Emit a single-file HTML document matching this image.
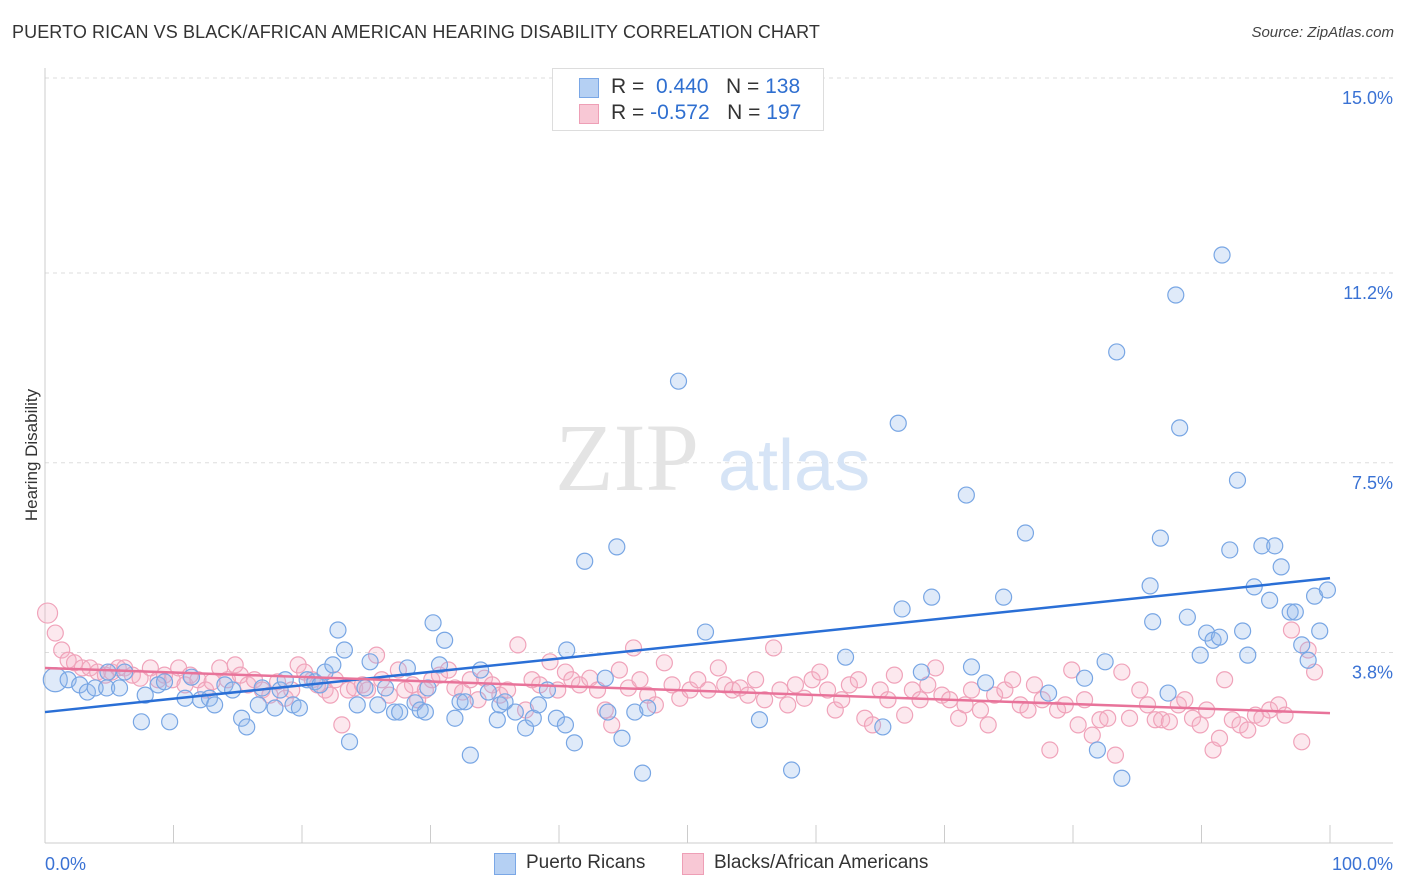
<!DOCTYPE html>
<html><head><meta charset="utf-8">
<style>
body{margin:0;background:#fff;font-family:"Liberation Sans",sans-serif;}
#wrap{position:relative;width:1406px;height:892px;overflow:hidden;}
.t{position:absolute;white-space:nowrap;}
</style></head><body>
<div id="wrap">
<div class="t" style="left:12px;top:22px;font-size:18px;color:#333;letter-spacing:0.1px">PUERTO RICAN VS BLACK/AFRICAN AMERICAN HEARING DISABILITY CORRELATION CHART</div>
<div class="t" style="right:12px;top:24px;font-size:15px;color:#444;font-style:italic">Source: ZipAtlas.com</div>
<div class="t" style="left:-38px;top:445px;font-size:17px;color:#333;transform:rotate(-90deg);transform-origin:center;width:140px;text-align:center">Hearing Disability</div>
<svg id="plot" width="1406" height="892" style="position:absolute;left:0;top:0"></svg>
<div style="position:absolute;left:552px;top:68px;width:270px;height:61px;border:1px solid #ddd;background:#fff;">
 <div style="position:absolute;left:26px;top:9px;width:18px;height:18px;background:#b5d0f3;border:1px solid #7aa7e6"></div>
 <div class="t" style="left:58px;top:6px;font-size:21px;color:#333">R = &nbsp;<span style="color:#2f6fd0">0.440</span> &nbsp;&nbsp;N = <span style="color:#2f6fd0">138</span></div>
 <div style="position:absolute;left:26px;top:35px;width:18px;height:18px;background:#f8c8d5;border:1px solid #ee9fb6"></div>
 <div class="t" style="left:58px;top:32px;font-size:21px;color:#333">R = <span style="color:#2f6fd0">-0.572</span> &nbsp;&nbsp;N = <span style="color:#2f6fd0">197</span></div>
</div>
<div style="position:absolute;left:494px;top:853px;width:20px;height:20px;background:#b5d0f3;border:1px solid #7aa7e6"></div>
<div class="t" style="left:526px;top:852px;font-size:19px;color:#333">Puerto Ricans</div>
<div style="position:absolute;left:682px;top:853px;width:20px;height:20px;background:#f8c8d5;border:1px solid #ee9fb6"></div>
<div class="t" style="left:714px;top:852px;font-size:19px;color:#333">Blacks/African Americans</div>
</div>
<script>
const yTicks=[15.0,11.2,7.5,3.8];
const yTickLabels=["15.0%","11.2%","7.5%","3.8%"];
const xTickLabels=["0.0%","100.0%"];
const blueX=[0.8,1.8,2.7,3.3,3.9,4.8,5.8,4.9,6.2,7.5,7.8,8.8,9.7,9.3,10.9,11.4,12.1,12.8,13.2,14.0,14.6,15.3,15.7,16.6,16.9,17.9,18.3,18.7,19.3,19.8,20.4,21.0,21.4,21.8,22.4,22.8,23.3,23.7,24.3,24.9,25.3,25.9,26.5,27.2,27.6,28.2,28.8,29.2,29.6,29.8,30.2,30.7,31.1,31.9,32.3,32.7,33.1,33.9,34.5,35.2,35.4,35.8,36.6,37.4,38.0,38.4,39.1,39.8,40.5,40.6,41.2,42.0,43.6,43.8,44.5,44.9,45.9,46.5,46.9,49.3,51.4,55.6,58.1,62.3,65.2,66.4,66.7,68.2,69.0,71.7,72.1,73.2,74.6,76.3,78.1,80.9,81.9,82.5,83.4,83.8,86.0,86.2,86.8,87.4,88.0,88.3,88.9,89.9,90.4,90.9,91.4,91.6,92.2,92.8,93.2,93.6,94.1,94.7,95.3,95.7,96.2,96.9,97.3,97.8,98.3,98.8,99.2,99.8];
const blueY=[3.27,3.27,3.17,3.03,3.11,3.11,3.11,3.42,3.42,2.45,2.97,3.17,2.45,3.23,2.91,3.32,2.88,2.91,2.78,3.17,3.07,2.52,2.35,2.78,3.11,2.72,3.07,3.27,2.78,2.72,3.27,3.23,3.17,3.42,3.56,4.24,3.85,2.06,2.78,3.11,3.62,2.78,3.11,2.64,2.64,3.50,2.82,2.68,2.64,3.11,4.38,3.56,4.04,2.52,2.84,2.84,1.80,3.46,3.03,2.49,2.78,2.84,2.64,2.33,2.52,2.78,3.07,2.52,2.39,3.85,2.04,5.58,3.30,2.64,5.86,2.13,2.64,1.45,2.72,9.09,4.20,2.49,1.51,3.71,2.35,8.27,4.65,3.42,4.88,6.87,3.52,3.21,4.88,6.13,3.01,3.30,1.90,3.62,9.66,1.35,5.10,4.40,6.03,3.01,10.77,8.18,4.49,3.75,4.18,4.04,4.10,11.55,5.80,7.16,4.22,3.75,5.08,5.88,4.82,5.88,5.47,4.59,4.59,3.95,3.65,4.90,4.22,5.02];
const pinkX=[0.2,0.8,1.3,1.8,2.3,2.9,3.5,4.1,4.7,5.2,5.7,6.2,6.8,7.4,8.2,8.8,9.3,9.9,10.4,10.9,11.3,11.9,12.5,13.0,13.6,14.2,14.8,15.2,15.8,16.3,16.9,17.5,18.1,18.7,19.2,19.7,20.2,20.8,21.2,21.8,22.2,22.6,23.1,23.6,24.1,24.7,25.1,25.8,26.2,26.8,27.5,28.0,28.6,29.0,29.6,30.1,30.7,31.4,31.9,32.5,33.1,33.7,34.2,34.8,35.4,36.0,36.8,37.4,37.9,38.5,39.3,39.9,40.5,41.0,41.6,42.4,43.0,43.6,44.1,44.7,45.4,45.8,46.3,46.9,47.5,48.2,48.8,49.4,50.2,50.8,51.6,52.4,52.9,53.5,54.1,54.7,55.3,56.0,56.7,57.2,57.8,58.4,59.1,59.7,60.3,60.9,61.5,62.0,62.6,63.3,63.8,64.4,65.0,65.6,66.1,66.9,67.5,68.1,68.7,69.3,69.8,70.4,71.1,71.6,72.1,72.8,73.4,73.9,74.7,75.3,75.9,76.5,77.0,77.6,78.2,78.8,79.4,79.9,80.4,80.9,81.5,82.1,82.7,83.3,83.8,84.4,85.2,85.8,86.4,86.9,87.5,88.2,88.7,89.3,89.9,90.4,90.9,91.4,91.8,92.4,93.0,93.6,94.2,94.7,95.3,96.0,96.5,97.0,97.8,98.3,98.8];
const pinkY=[4.57,4.18,3.85,3.65,3.60,3.50,3.50,3.42,3.36,3.42,3.50,3.50,3.36,3.30,3.50,3.27,3.36,3.27,3.50,3.17,3.36,3.27,3.07,3.23,3.50,3.27,3.56,3.36,3.17,3.27,3.07,2.97,3.23,2.91,3.07,3.56,3.42,3.27,3.17,3.07,2.97,3.27,2.39,3.07,3.11,3.17,3.07,3.75,3.27,2.97,3.46,3.07,3.17,2.88,3.07,3.27,3.36,3.46,3.11,3.03,3.27,2.88,3.30,3.17,2.97,3.07,3.95,2.68,3.27,3.17,3.62,3.07,3.42,3.27,3.17,3.30,3.07,2.68,2.39,3.46,3.11,3.89,3.27,2.97,2.78,3.60,3.17,2.91,3.07,3.27,3.07,3.50,3.17,3.07,3.11,2.97,3.27,2.88,3.89,3.07,2.78,3.17,2.91,3.27,3.42,3.07,2.68,2.88,3.17,3.27,2.52,2.39,3.07,2.88,3.36,2.58,3.07,2.88,3.17,3.50,2.97,2.88,2.52,2.78,3.07,2.68,2.39,2.97,3.07,3.27,2.78,2.68,3.17,2.88,1.90,2.68,2.78,3.46,2.39,2.88,2.19,2.49,2.52,1.80,3.42,2.52,3.07,2.78,2.49,2.49,2.45,2.78,2.88,2.52,2.39,2.68,1.90,2.13,3.27,2.49,2.39,2.29,2.58,2.52,2.68,2.78,2.58,4.24,2.06,3.85,3.42];
const blueTrend=[2.64,5.25];
const pinkTrend=[3.50,2.62];

const svg=document.getElementById('plot');
const NS='http://www.w3.org/2000/svg';
const X0=45,X1=1330,Y15=78,PXPER=51.3;
function xs(v){return X0+(X1-X0)*v/100;}
function ys(v){return Y15+(15-v)*PXPER;}
function mk(tag,attrs){const e=document.createElementNS(NS,tag);for(const k in attrs)e.setAttribute(k,attrs[k]);svg.appendChild(e);return e;}
yTicks.forEach((t,i)=>{
 const g=mk('line',{x1:45,x2:1393,y1:ys(t),y2:ys(t),stroke:'#ddd','stroke-dasharray':'4,4'});
 
 
 const tx=mk('text',{x:1393,y:ys(t)+26,'text-anchor':'end','font-size':18,fill:'#3a72d4','font-family':'Liberation Sans'});
 tx.textContent=yTickLabels[i];
 
 
});
const ax=mk('line',{x1:45,x2:1393,y1:843,y2:843,stroke:'#ccc'});


const ay=mk('line',{x1:45,x2:45,y1:68,y2:843,stroke:'#ccc'});


for(let i=0;i<=10;i++){const tk=mk('line',{x1:xs(i*10),x2:xs(i*10),y1:825,y2:843,stroke:'#ccc'});
 
 }
const xl0=mk('text',{x:45,y:870,'font-size':18,fill:'#3a72d4','font-family':'Liberation Sans'});xl0.textContent=xTickLabels[0];


const xl1=mk('text',{x:1393,y:870,'text-anchor':'end','font-size':18,fill:'#3a72d4','font-family':'Liberation Sans'});xl1.textContent=xTickLabels[1];


const wm=mk('text',{x:555,y:490,'font-size':96,fill:'#e4e4e4','font-family':'Liberation Serif'});wm.textContent='ZIP';


const wm2=mk('text',{x:718,y:490,'font-size':72,fill:'#d6e4f6','font-family':'Liberation Sans'});wm2.textContent='atlas';


pinkX.forEach((v,i)=>{const c=mk('circle',{cx:xs(v),cy:ys(pinkY[i]),r:i==0?10:8,fill:'rgba(246,180,200,0.3)',stroke:'#f0a3ba','stroke-width':1.2});
 
 });
blueX.forEach((v,i)=>{const c=mk('circle',{cx:xs(v),cy:ys(blueY[i]),r:i==0?12:8,fill:'rgba(150,185,235,0.3)',stroke:'#78a6e4','stroke-width':1.2});
 
 });
const bl=mk('line',{x1:xs(0),y1:ys(blueTrend[0]),x2:xs(100),y2:ys(blueTrend[1]),stroke:'#2a6fd6','stroke-width':2.5});


const pl=mk('line',{x1:xs(0),y1:ys(pinkTrend[0]),x2:xs(100),y2:ys(pinkTrend[1]),stroke:'#e8739a','stroke-width':2.5});


</script>
</body></html>
